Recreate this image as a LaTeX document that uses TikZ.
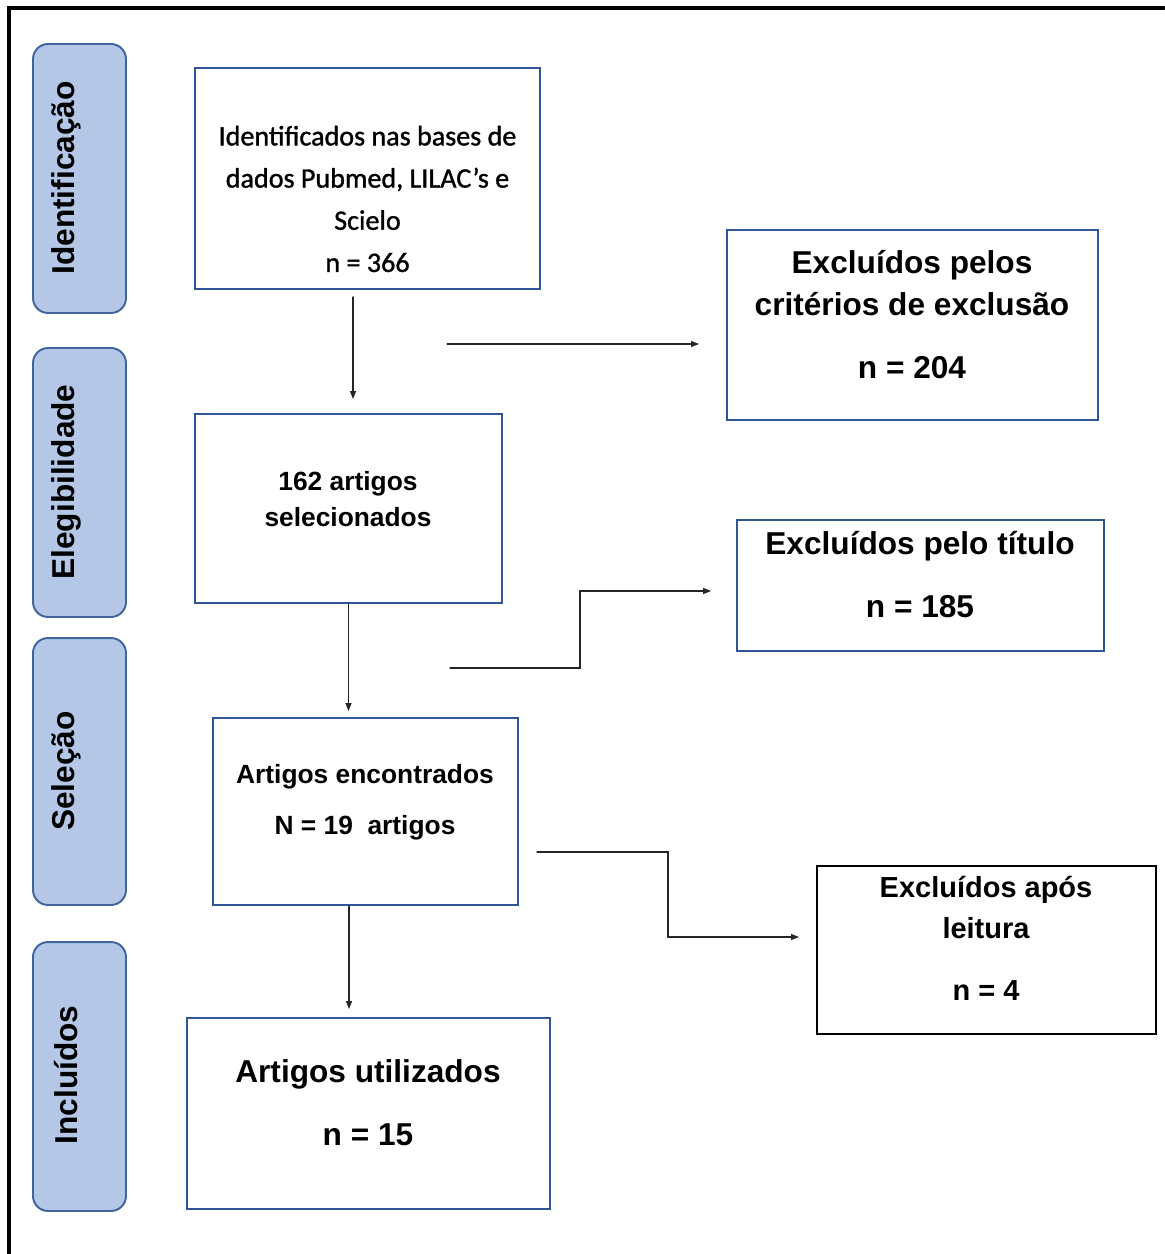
\documentclass[tikz,border=0pt]{standalone}
\usepackage{fontspec}
\setmainfont{Liberation Sans}
\newfontfamily\calfont[FakeBold=1.2]{Carlito}
\usetikzlibrary{arrows.meta}
\definecolor{phasefill}{HTML}{B4C7E7}
\definecolor{phaseline}{HTML}{41649C}
\definecolor{boxline}{HTML}{2F5597}
\begin{document}
\begin{tikzpicture}[x=0.02cm,y=-0.02cm,>={Triangle[length=1.6mm,width=1.2mm]},line cap=round,
  phase/.style={draw=phaseline,fill=phasefill,line width=1.1pt,rounded corners=0.3cm,minimum width=1.86cm,minimum height=5.38cm},
  phasetxt/.style={rotate=90,font=\fontsize{18}{22}\selectfont\bfseries},
  box/.style={draw=boxline,line width=1.1pt,minimum width=#1},
  txt/.style={align=center,font=\fontsize{#1}{24}\selectfont\bfseries},
  arr/.style={->,black!85,line width=0.7pt}]
\useasboundingbox (0,0) rectangle (1164,1254);
\draw[line width=1.8pt] (9,1254) -- (9,8) -- (1164,8);
% fases
\node[phase] (f1) at (79.5,178.5) {};
\node[phasetxt] (f1t) at (66,178) {Identificação};
\node[phase] (f2) at (79.5,482.5) {};
\node[phasetxt] (f2t) at (66,482) {Elegibilidade};
\node[phase,minimum height=5.34cm] (f3) at (79.5,771.5) {};
\node[phasetxt] (f3t) at (66,771) {Seleção};
\node[phase] (f4) at (79.5,1076.5) {};
\node[phasetxt] (f4t) at (66,1075) {Incluídos};
% caixas
\node[box=6.9cm,minimum height=4.42cm] (ident) at (367.5,178.5) {};
\node[align=center,font=\calfont\fontsize{16}{24}\selectfont] (identt) at (367.5,199) {Identificados nas bases de\\dados Pubmed, LILAC’s e\\Scielo\\n = 366};
\node[box=6.14cm,minimum height=3.78cm] (eleg) at (348.5,508.5) {};
\node[align=center,font=\fontsize{15}{20.4}\selectfont\bfseries] (elegt) at (348,499) {162 artigos\\selecionados};
\node[box=6.1cm,minimum height=3.74cm] (enc) at (365.5,811.5) {};
\node[align=center,font=\fontsize{15}{28.9}\selectfont\bfseries] (enct) at (365,802.5) {Artigos encontrados\\N = 19~~artigos};
\node[box=7.26cm,minimum height=3.82cm] (util) at (368.5,1113.5) {};
\node[txt=18] (utilt) at (368,1102.5) {Artigos utilizados\\[11.7pt]n = 15};
\node[box=7.42cm,minimum height=3.8cm] (ex1) at (912.5,325) {};
\node[txt=18] (ex1t) at (912,314.5) {Excluídos pelos\\critérios de exclusão\\[11.9pt]n = 204};
\node[box=7.34cm,minimum height=2.62cm] (ex2) at (920.5,585.5) {};
\node[txt=18] (ex2t) at (920,574.5) {Excluídos pelo título\\[11.7pt]n = 185};
\node[box=6.78cm,minimum height=3.36cm,draw=black] (ex3) at (986.5,950) {};
\node[align=center,font=\fontsize{16.5}{23.2}\selectfont\bfseries] (ex3t) at (986,938.5) {Excluídos após\\leitura\\[12pt]n = 4};
% setas
\draw[arr,shorten <=0.14cm,shorten >=0.28cm] ([xshift=-0.29cm]ident.south) -- ([xshift=-0.29cm]ident.south |- eleg.north);
\coordinate (c1) at (447,344);
\draw[arr,shorten >=0.54cm] (c1) -- (c1 -| ex1.west);
\draw[arr,shorten >=0.12cm] (eleg.south) -- (eleg.south |- enc.north);
\coordinate (c2) at (450,668);
\draw[arr,shorten >=0.5cm] (c2) -- ++(130,0) |- ([yshift=-0.11cm]ex2.west);
\draw[arr,shorten >=0.16cm] ([xshift=-0.33cm]enc.south) -- ([xshift=-0.33cm]enc.south |- util.north);
\coordinate (c3) at (537,852);
\draw[arr,shorten >=0.34cm] (c3) -- ++(131,0) |- ([yshift=0.26cm]ex3.west);
\end{tikzpicture}
\end{document}
